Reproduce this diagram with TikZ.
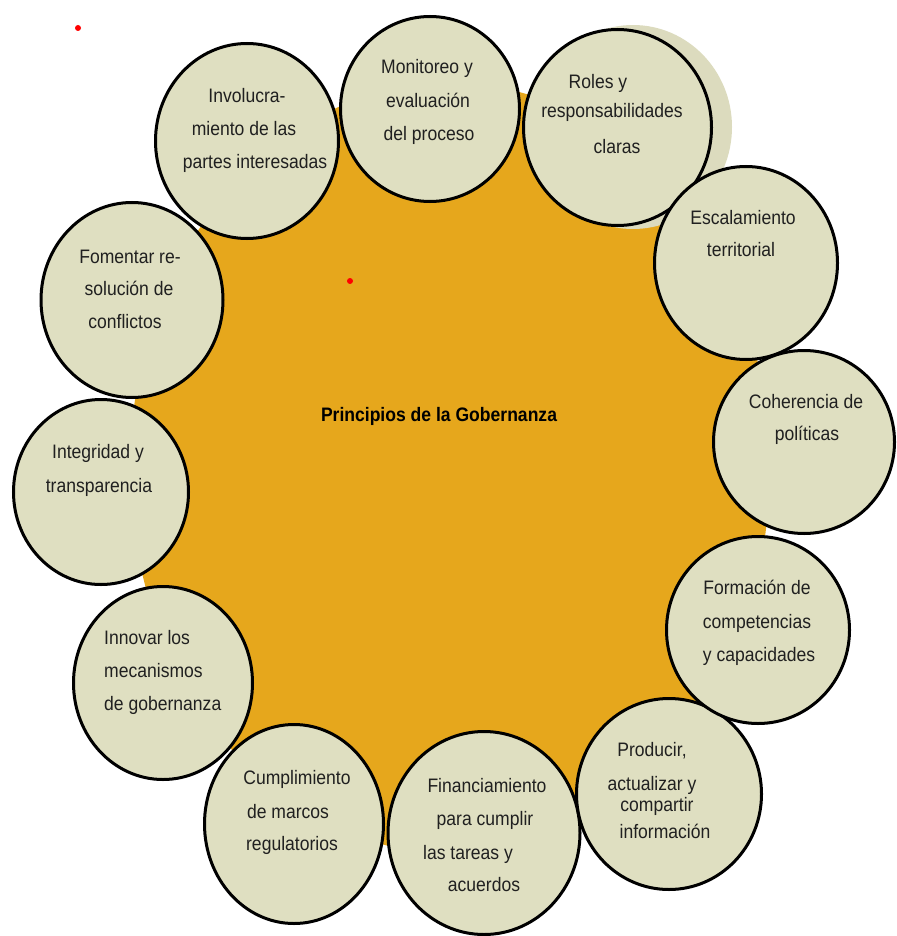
\documentclass[tikz,border=0pt]{standalone}
\usepackage{fontspec}
\setmainfont{Liberation Sans}[FakeStretch=0.9]
\usetikzlibrary{shapes.geometric}
\definecolor{orangefill}{HTML}{E6A71C}
\definecolor{beige}{HTML}{DFDFC1}
\definecolor{shadowbeige}{HTML}{DCDBBE}
\definecolor{txtgray}{HTML}{202020}
\begin{document}
\begin{tikzpicture}[x=1pt,y=-1pt,
  bubble/.style={ellipse, draw=black, line width=3pt, fill=beige, inner sep=0pt},
  txt/.style={anchor=base, inner sep=0pt, text=txtgray, font=\fontsize{19.5}{22}\selectfont},
  txtl/.style={txt, anchor=base west},
  dot/.style={circle, fill=red, inner sep=0pt, minimum size=6pt}]
\useasboundingbox (0,0) rectangle (896,936);
% central shape
\node[ellipse, fill=orangefill, minimum width=640pt, minimum height=770pt, inner sep=0pt] (core) at (450,468) {};
% shadow behind Roles
\node[ellipse, fill=shadowbeige, minimum width=198pt, minimum height=204pt, inner sep=0pt] (shadow) at (633,127) {};
% bubbles
\node[bubble, minimum width=179pt, minimum height=185pt] (mon) at (430,109) {};
\node[bubble, minimum width=188pt, minimum height=196pt] (rol) at (617.5,127.5) {};
\node[bubble, minimum width=183pt, minimum height=195pt] (inv) at (247,141) {};
\node[bubble, minimum width=182pt, minimum height=195pt] (fom) at (132,300) {};
\node[bubble, minimum width=175pt, minimum height=185pt] (int) at (101,492) {};
\node[bubble, minimum width=179pt, minimum height=193pt] (inn) at (163,683) {};
\node[bubble, minimum width=179pt, minimum height=199pt] (cum) at (294,824) {};
\node[bubble, minimum width=192pt, minimum height=203pt] (fin) at (484,833) {};
\node[bubble, minimum width=185pt, minimum height=191pt] (pro) at (669,794) {};
\node[bubble, minimum width=183pt, minimum height=187pt] (for) at (758,630) {};
\node[bubble, minimum width=181pt, minimum height=183pt] (coh) at (804,442) {};
\node[bubble, minimum width=183pt, minimum height=193pt] (esc) at (746,263) {};
% red dots
\node[dot] (d1) at (78,28) {};
\node[dot] (d2) at (350,281) {};
% central text
\node[anchor=base, inner sep=0pt, font=\bfseries\fontsize{19.5}{22}\selectfont] (title) at (439,421) {Principios de la Gobernanza};
% texts
\node[txt] (mon1) at (427,74) {Monitoreo y};
\node[txt] (mon2) at (428,108) {evaluación};
\node[txt] (mon3) at (429,141) {del proceso};
\node[txt] (rol1) at (598,89) {Roles y};
\node[txt] (rol2) at (612,118) {responsabilidades};
\node[txt] (rol3) at (617,154) {claras};
\node[txt] (inv1) at (247,103) {Involucra-};
\node[txt] (inv2) at (244,136) {miento de las};
\node[txt] (inv3) at (255,169) {partes interesadas};
\node[txt] (fom1) at (130,263) {Fomentar re-};
\node[txt] (fom2) at (129,295) {solución de};
\node[txt] (fom3) at (125,328) {conflictos};
\node[txt] (int1) at (98,458) {Integridad y};
\node[txt] (int2) at (99,492) {transparencia};
\node[txtl] (inn1) at (104,644) {Innovar los};
\node[txtl] (inn2) at (104,677) {mecanismos};
\node[txtl] (inn3) at (104,710) {de gobernanza};
\node[txt] (cum1) at (297,784) {Cumplimiento};
\node[txt] (cum2) at (288,818) {de marcos};
\node[txt] (cum3) at (292,850) {regulatorios};
\node[txt] (fin1) at (487,792) {Financiamiento};
\node[txt] (fin2) at (485,825) {para cumplir};
\node[txt] (fin3) at (468,859) {las tareas y};
\node[txt] (fin4) at (484,891) {acuerdos};
\node[txt] (pro1) at (652,756) {Producir,};
\node[txt] (pro2) at (652,790) {actualizar y};
\node[txt] (pro3) at (657,811) {compartir};
\node[txt] (pro4) at (665,838) {información};
\node[txt] (for1) at (757,594) {Formación de};
\node[txt] (for2) at (757,628) {competencias};
\node[txt] (for3) at (759,661) {y capacidades};
\node[txt] (coh1) at (806,408) {Coherencia de};
\node[txt] (coh2) at (807,440) {políticas};
\node[txt] (esc1) at (743,224) {Escalamiento};
\node[txt] (esc2) at (741,256) {territorial};
\end{tikzpicture}
\end{document}
